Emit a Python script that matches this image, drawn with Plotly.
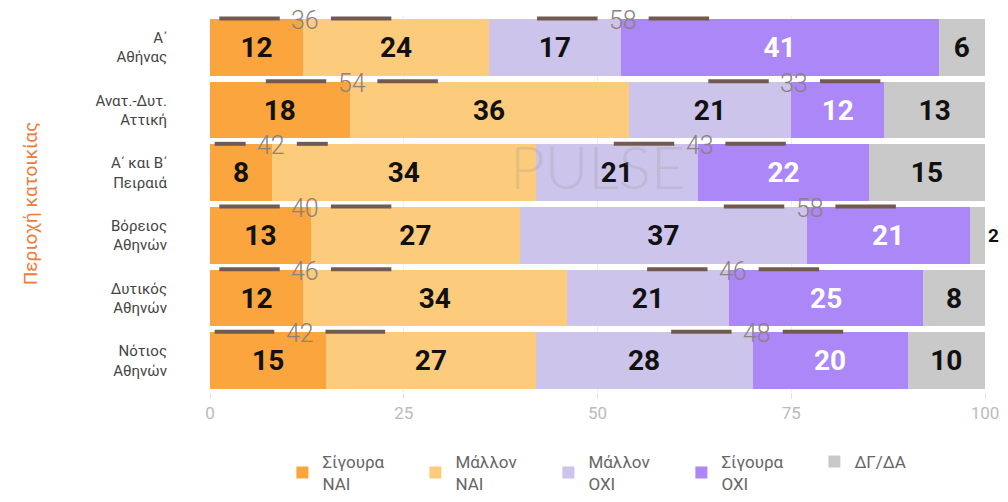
import plotly.graph_objects as go

regions = ["Α΄<br>Αθήνας", "Ανατ.-Δυτ.<br>Αττική", "Α΄ και Β΄<br>Πειραιά",
           "Βόρειος<br>Αθηνών", "Δυτικός<br>Αθηνών", "Νότιος<br>Αθηνών"]
sig_nai = [12, 18, 8, 13, 12, 15]
mal_nai = [24, 36, 34, 27, 34, 27]
mal_oxi = [17, 21, 21, 37, 21, 28]
sig_oxi = [41, 12, 22, 21, 25, 20]
dgda = [6, 13, 15, 2, 8, 10]
series_names = ["Σίγουρα<br>ΝΑΙ", "Μάλλον<br>ΝΑΙ", "Μάλλον<br>ΟΧΙ", "Σίγουρα<br>ΟΧΙ", "ΔΓ/ΔΑ"]
x_ticks = [0, 25, 50, 75, 100]

# label placement (layout)
nai_label_x = [12.3, 18.3, 7.9, 12.3, 12.3, 11.6]
oxi_label_x = [53.3, 75.4, 63.2, 77.4, 67.5, 70.6]

colors = ["#FBA53E", "#FDCB7C", "#CCC4EA", "#AB87F7", "#C9C9C9"]
text_colors = ["#111111", "#111111", "#111111", "#FFFFFF", "#111111"]
series = [sig_nai, mal_nai, mal_oxi, sig_oxi, dgda]
ypos = list(range(len(regions)))

fig = go.Figure()
for k, (name, vals) in enumerate(zip(series_names, series)):
    if k == 4:
        tpos = ["outside" if v < 4 else "inside" for v in vals]
    else:
        tpos = "inside"
    fig.add_trace(go.Bar(
        y=ypos, x=vals, orientation="h", name=name,
        marker=dict(color=colors[k], line=dict(width=0)),
        width=0.9,
        text=[str(v) for v in vals], textposition=tpos,
        insidetextanchor="middle",
        insidetextfont=dict(family="Roboto", size=28, color=text_colors[k], weight="bold"),
        outsidetextfont=dict(family="Roboto", size=19, color="#111111", weight="bold"),
        constraintext="none", cliponaxis=False,
        hoverinfo="x+name",
    ))

nai_tot = [a + b for a, b in zip(sig_nai, mal_nai)]
oxi_tot = [a + b for a, b in zip(mal_oxi, sig_oxi)]

shapes = []
annotations = []
dash_color = "#735A50"
half_w = 2.0
gap = 1.3
for i in ypos:
    for lx, tot in ((nai_label_x[i], nai_tot[i]), (oxi_label_x[i], oxi_tot[i])):
        L = min(7.8, lx - half_w - gap - 0.6)
        yy = i - 0.46
        shapes.append(dict(type="line", xref="x", yref="y",
                           x0=lx - half_w - gap - L, x1=lx - half_w - gap, y0=yy, y1=yy,
                           line=dict(color=dash_color, width=4), layer="above"))
        shapes.append(dict(type="line", xref="x", yref="y",
                           x0=lx + half_w + gap, x1=lx + half_w + gap + L, y0=yy, y1=yy,
                           line=dict(color=dash_color, width=4), layer="above"))
        annotations.append(dict(x=lx, y=i - 0.43, xref="x", yref="y", text=str(tot),
                                showarrow=False, xanchor="center", yanchor="middle",
                                font=dict(family="Roboto", size=25, color="#8C8180", weight=300)))

# y axis title
annotations.append(dict(x=-0.232, y=0.5, xref="paper", yref="paper", text="Περιοχή κατοικίας",
                        textangle=-90, showarrow=False, xanchor="center", yanchor="middle",
                        font=dict(family="Roboto", size=19, color="#F07A3A")))
# watermark
annotations.append(dict(x=0.5, y=0.6, xref="paper", yref="paper", text="PULSE",
                        showarrow=False, font=dict(family="Lato", size=60, color="rgba(150,150,150,0.25)", weight=300)))

fig.update_layout(
    barmode="stack",
    width=1008, height=502,
    margin=dict(l=210, r=23, t=16, b=110, autoexpand=False),
    paper_bgcolor="white", plot_bgcolor="white",
    bargap=0.1,
    shapes=shapes, annotations=annotations,
    xaxis=dict(range=[0, 100], tickvals=x_ticks, ticktext=[str(t) for t in x_ticks],
               showgrid=True, gridcolor="#EEEEEE", gridwidth=1, zeroline=False,
               tickfont=dict(family="Roboto", size=17, color="#BBBBBB"),
               ticks="outside", ticklen=6, tickcolor="#E2E2E2", automargin=False),
    yaxis=dict(tickvals=ypos, ticktext=regions, range=[len(regions) - 0.5, -0.5],
               autorange=False,
               showgrid=False, zeroline=False,
               tickfont=dict(family="Roboto", size=15, color="#444444"),
               ticklabelstandoff=42, automargin=False),
    legend=dict(orientation="h", x=0.61, xref="container", xanchor="center",
                y=0.0, yref="container", yanchor="bottom",
                font=dict(family="Roboto", size=17, color="#666666"),
                traceorder="normal", entrywidth=88, itemwidth=30),
    showlegend=True,
)

fig.write_html("out.html", config={"displayModeBar": False},
               post_script="document.body.style.margin='0';")
